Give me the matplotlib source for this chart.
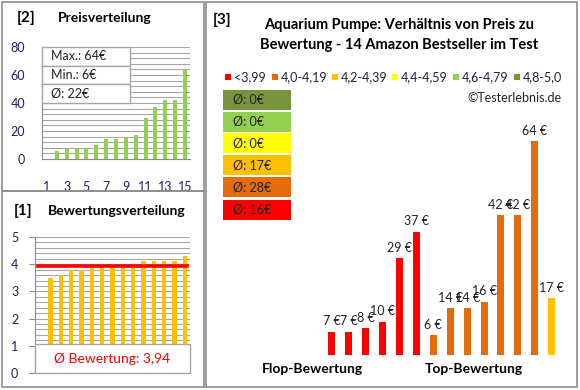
import matplotlib.pyplot as plt
from matplotlib.patches import Rectangle

plt.rcParams['font.family'] = ['Lato', 'DejaVu Sans']

W, H = 580, 390

# [2] Preisverteilung
price_cats = list(range(1, 16))
price_values = [0, 6, 7, 7, 8, 10, 14, 14, 16, 17, 29, 37, 42, 42, 64]
price_ticks = [1, 3, 5, 7, 9, 11, 13, 15]
price_stats = ['Max.: 64€', 'Min.: 6€', 'Ø: 22€']

# [1] Bewertungsverteilung
rating_values = [0, 3.5, 3.6, 3.8, 3.8, 3.9, 3.9, 4.0, 4.0, 4.0, 4.1, 4.1, 4.1, 4.1, 4.3]
rating_mean = 3.94
rating_text = 'Ø Bewertung: 3,94'

# [3] Preis zu Bewertung
main_prices = [7, 7, 8, 10, 29, 37, 6, 14, 14, 16, 42, 42, 64, 17]
main_classes = [0, 0, 0, 0, 0, 0, 1, 1, 1, 1, 1, 1, 1, 2]
class_labels = ['<3,99', '4,0-4,19', '4,2-4,39', '4,4-4,59', '4,6-4,79', '4,8-5,0']
class_colors = ['#FF0000', '#E46C0A', '#FFC000', '#FFFF00', '#92D050', '#77933C']
class_means = ['Ø: 16€', 'Ø: 28€', 'Ø: 17€', 'Ø: 0€', 'Ø: 0€', 'Ø: 0€']

GRID = '#A6A6A6'
EDGE = '#8C8C8C'


def px_axes(fig, x, y, w, h):
    return fig.add_axes([x / W, 1 - (y + h) / H, w / W, h / H])


def fx(x):
    return x / W


def fy(y):
    return 1 - y / H


def main():
    fig = plt.figure(figsize=(5.8, 3.9), dpi=100)
    fig.patch.set_facecolor('white')

    # panel frames
    for (x, y, w, h) in [(2, 2, 202, 189), (2, 191, 202, 196), (206, 2, 371, 385)]:
        fig.patches.append(Rectangle((fx(x), fy(y + h)), w / W, h / H, transform=fig.transFigure,
                                     fill=False, edgecolor=EDGE, linewidth=1.2))

    # ---------- [2] Preisverteilung ----------
    fig.text(fx(17), fy(18), '[2]', fontsize=11, fontweight='bold', va='center')
    fig.text(fx(58), fy(18), 'Preisverteilung', fontsize=10, fontweight='bold', va='center')

    ax = px_axes(fig, 42, 47, 148, 112)
    ax.bar(price_cats, price_values, width=0.4, color='#92D050', zorder=3)
    ax.set_xlim(0.5, 15.5)
    ax.set_ylim(0, 80)
    for v in range(4, 81, 4):
        ax.axhline(v, color=GRID, linewidth=0.8, zorder=1)
    ax.set_yticks([0, 20, 40, 60, 80])
    ax.set_xticks(price_ticks)
    ax.tick_params(axis='both', length=0, labelsize=9, colors='#1F1F5F')
    ax.tick_params(axis='y', pad=12)
    ax.tick_params(axis='x', pad=16)
    for s in ['top', 'right']:
        ax.spines[s].set_visible(False)
    for s in ['left', 'bottom']:
        ax.spines[s].set_color(EDGE)

    # stats box
    for i, txt in enumerate(price_stats):
        y0 = 47 + i * 18.7
        fig.patches.append(Rectangle((fx(42), fy(y0 + 18.7)), 88 / W, 18.7 / H, transform=fig.transFigure,
                                     facecolor='white', edgecolor=GRID, linewidth=1, zorder=5))
        fig.text(fx(51), fy(y0 + 9.5), txt, fontsize=9, va='center', color='#222222', zorder=6)

    # ---------- [1] Bewertungsverteilung ----------
    fig.text(fx(14), fy(211), '[1]', fontsize=11, fontweight='bold', va='center')
    fig.text(fx(48), fy(211), 'Bewertungsverteilung', fontsize=10, fontweight='bold', va='center')

    ax2 = px_axes(fig, 35, 237, 155, 136)
    ax2.bar(price_cats, rating_values, width=0.4, color='#FFC000', zorder=3)
    ax2.set_xlim(0.5, 15.5)
    ax2.set_ylim(0, 5)
    for i in range(1, 26):
        ax2.axhline(i * 0.2, color=GRID, linewidth=0.8, zorder=1)
    ax2.axhline(rating_mean, xmin=0.02, xmax=0.98, color='#FF0000', linewidth=2.6, zorder=4)
    ax2.set_yticks([0, 1, 2, 3, 4, 5])
    ax2.set_xticks([])
    ax2.tick_params(axis='y', length=4, color=EDGE, labelsize=9, colors='#1F1F5F', pad=8)
    for s in ['top', 'right', 'bottom']:
        ax2.spines[s].set_visible(False)
    ax2.spines['left'].set_color(EDGE)

    fig.patches.append(Rectangle((fx(35), fy(373)), 155 / W, 29 / H, transform=fig.transFigure,
                                 facecolor='white', edgecolor=GRID, linewidth=1, zorder=5))
    fig.text(fx(112), fy(359), rating_text, fontsize=10, color='#FF0000', ha='center', va='center', zorder=6)

    # ---------- [3] Preis zu Bewertung ----------
    fig.text(fx(213), fy(20), '[3]', fontsize=11, fontweight='bold', va='center')
    fig.text(fx(399), fy(25), 'Aquarium Pumpe: Verhältnis von Preis zu', fontsize=10.5,
             fontweight='bold', ha='center', va='center')
    fig.text(fx(399), fy(45), 'Bewertung - 14 Amazon Bestseller im Test', fontsize=10.5,
             fontweight='bold', ha='center', va='center')

    leg_x = [228, 275, 335, 395, 456, 517]
    for x, lab, col in zip(leg_x, class_labels, class_colors):
        fig.patches.append(Rectangle((fx(x - 3), fy(80)), 6 / W, 6 / H, transform=fig.transFigure,
                                     facecolor=col, edgecolor='none'))
        fig.text(fx(x + 6), fy(77), lab, fontsize=9, va='center', color='#1F1F3F')

    fig.text(fx(562), fy(98), '©Testerlebnis.de', fontsize=9, ha='right', va='center', color='#222222')

    box_tops = [200, 177, 155, 133, 112, 90]
    for top, col, txt in zip(box_tops, class_colors, class_means):
        fig.patches.append(Rectangle((fx(223), fy(top + 20)), 68 / W, 20 / H, transform=fig.transFigure,
                                     facecolor=col, edgecolor='none'))
        fig.text(fx(233), fy(top + 10), txt, fontsize=9, va='center', color='#222222')

    ax3 = px_axes(fig, 323.5, 88, 236.6, 267)
    xs = list(range(1, len(main_prices) + 1))
    cols = [class_colors[c] for c in main_classes]
    ax3.bar(xs, main_prices, width=0.42, color=cols)
    for x, v in zip(xs, main_prices):
        ax3.annotate(f'{v} €', (x, v), xytext=(0, 3), textcoords='offset points',
                     ha='center', va='bottom', fontsize=9, color='#222222')
    ax3.set_xlim(0.5, len(main_prices) + 0.5)
    ax3.set_ylim(0, 80)
    ax3.axis('off')

    fig.text(fx(312), fy(369), 'Flop-Bewertung', fontsize=10, fontweight='bold', ha='center', va='center')
    fig.text(fx(474), fy(369), 'Top-Bewertung', fontsize=10, fontweight='bold', ha='center', va='center')

    fig.savefig('out.png', dpi=100)


if __name__ == '__main__':
    main()
